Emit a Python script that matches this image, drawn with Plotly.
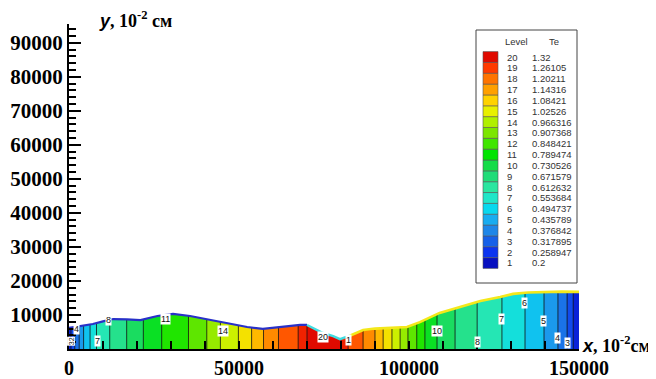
import plotly.graph_objects as go

# ---------------- data ----------------
# Te profile along x (10^-2 cm); mostly vertical isolines
x_cols = [0, 600, 1700, 3000, 4300, 6200, 8100, 12000, 17000, 21900, 27200, 35100,
          40500, 44500, 49800, 53700, 57200, 61600, 67400, 70000, 76000, 80000,
          82100, 86500, 90000, 92400, 95000, 97400, 99700, 102300, 104700, 108200,
          113500, 120000, 127300, 134100, 139700, 143800, 146500, 148300, 150000]
te_cols = [0.24, 0.259, 0.318, 0.377, 0.436, 0.495, 0.554, 0.613, 0.672, 0.731, 0.789, 0.848,
           0.907, 0.966, 1.025, 1.084, 1.143, 1.202, 1.261, 1.32, 1.36, 1.32,
           1.261, 1.202, 1.143, 1.084, 1.025, 0.966, 0.907, 0.848, 0.789, 0.731,
           0.672, 0.613, 0.554, 0.495, 0.436, 0.377, 0.318, 0.259, 0.225]
y_rows = [0, 18000]

# upper boundary of the domain
x_top = [0, 3000, 7000, 10000, 13000, 17000, 21000, 26000, 30600, 35600, 40600, 46500,
         52400, 57000, 62000, 68000, 70000, 74700, 77700, 79700, 82600, 86500, 90000,
         94400, 99400, 103200, 109000, 115000, 121000, 126800, 130600, 135000, 140600,
         145000, 150000]
h_top = [6200, 6700, 7350, 8100, 8800, 8700, 8500, 9700, 10300, 9700, 8800, 7650,
         6470, 5900, 6470, 7060, 7060, 4700, 3800, 2900, 3900, 5600, 6000,
         6200, 6470, 7900, 10600, 12350, 14100, 15300, 16200, 16600, 16800,
         16850, 16800]

# legend levels
levels = list(range(1, 21))
te_levels = ["0.2", "0.258947", "0.317895", "0.376842", "0.435789", "0.494737", "0.553684",
             "0.612632", "0.671579", "0.730526", "0.789474", "0.848421", "0.907368",
             "0.966316", "1.02526", "1.08421", "1.14316", "1.20211", "1.26105", "1.32"]
level_colors = ["#0810c0", "#0c34f0", "#1660e8", "#1e86e8", "#18acf0", "#08d8ee",
                "#20e6c8", "#2ae6a0", "#20dc78", "#14dc48", "#00e400", "#40e600",
                "#7ce600", "#b0f000", "#e8f000", "#ffd200", "#ffa000", "#ff7400",
                "#ff3a00", "#e00a00"]

# contour labels (x, y, text)
lab_x = [2060, 8240, 11760, 28240, 45290, 74700, 82060, 108240, 120000, 127350, 134100, 139700, 143800, 146470]
lab_y = [5880, 2350, 8530, 8820, 5290, 3530, 2650, 5290, 2060, 8820, 13530, 8240, 3240, 1760]
lab_t = ["4", "7", "8", "11", "14", "20", "1", "10", "8", "7", "6", "5", "4", "3"]

# ---------------- figure ----------------
W, H = 656, 379
OFF = 8  # page body margin
PW, PH = 510, 325
ML, MT = 69 - OFF, 24 - OFF
MR, MB = W - ML - PW, H - MT - PH


def px(xp):
    return (xp - OFF - ML) / PW


def py(yp):
    return (H - MB - (yp - OFF)) / PH


cs = (1.32 - 0.2) / 19
# level k colour sits at (k-0.5)/20 so that each band is a blend of its two bounding levels
colorscale = [[0.0, level_colors[0]]]
for k in range(1, 21):
    colorscale.append([(k - 0.5) / 20, level_colors[k - 1]])
colorscale.append([1.0, level_colors[-1]])

fig = go.Figure()
fig.add_trace(go.Contour(
    x=x_cols, y=y_rows, z=[te_cols, te_cols],
    autocontour=False,
    contours=dict(start=0.2, end=1.32, size=cs, coloring="fill", showlines=True),
    line=dict(color="#111111", width=0.8),
    colorscale=colorscale, showscale=False, hoverinfo="skip"))

# white mask above the upper boundary
mask_x = x_top + [150000, 0]
mask_y = h_top + [19000, 19000]
fig.add_trace(go.Scatter(x=mask_x, y=mask_y, fill="toself", fillcolor="white",
                         mode="lines", line=dict(width=0, color="white"),
                         hoverinfo="skip", showlegend=False))


def seg(x0, x1):
    xs, ys = [], []
    for xv, hv in zip(x_top, h_top):
        if x0 <= xv <= x1:
            xs.append(xv)
            ys.append(hv)
    return xs, ys


for (a, b, c, w) in [(0, 70000, "#2830c8", 2.2), (70000, 82600, "#40dce0", 2.4),
                     (82600, 150000, "#f4e81a", 2.6)]:
    xs, ys = seg(a, b)
    fig.add_trace(go.Scatter(x=xs, y=ys, mode="lines", line=dict(color=c, width=w),
                             hoverinfo="skip", showlegend=False))

annotations = []
for xv, yv, t in zip(lab_x, lab_y, lab_t):
    annotations.append(dict(x=xv, y=yv, xref="x", yref="y", text=t, showarrow=False,
                            xanchor="center", yanchor="middle",
                            font=dict(family="Liberation Sans", size=9, color="#111"),
                            bgcolor="white", borderpad=0))
annotations.append(dict(x=700, y=2400, xref="x", yref="y", text="32", showarrow=False,
                        xanchor="center", yanchor="middle",
                        textangle=-90, font=dict(family="Liberation Sans", size=7, color="#111"),
                        bgcolor="white", borderpad=0))

# axis titles
annotations.append(dict(x=px(97), y=py(20), xref="paper", yref="paper", xanchor="left", yanchor="middle",
                        text="<b><i><span style='font-family:Liberation Sans'>y</span></i>, 10<sup>-2</sup> см</b>",
                        showarrow=False, font=dict(family="Liberation Serif", size=18, color="black")))
annotations.append(dict(x=px(580), y=py(344), xref="paper", yref="paper", xanchor="left", yanchor="middle",
                        text="<b><i><span style='font-family:Liberation Sans'>x</span></i>, 10<sup>-2</sup>см</b>",
                        showarrow=False, font=dict(family="Liberation Serif", size=18, color="black")))

# legend box
shapes = [dict(type="rect", xref="paper", yref="paper", x0=px(476), x1=px(577), y0=py(283), y1=py(30),
               fillcolor="white", line=dict(color="#444", width=1), layer="above")]
row_top, row_bot = 57, 263
step = (row_bot - row_top) / 19
lf = dict(family="Liberation Sans", size=9.5, color="#333")
annotations.append(dict(x=px(503), y=py(42), xref="paper", yref="paper", xanchor="left", yanchor="middle",
                        text="Level", showarrow=False, font=lf))
annotations.append(dict(x=px(547), y=py(42), xref="paper", yref="paper", xanchor="left", yanchor="middle",
                        text="Te", showarrow=False, font=lf))
for k, tv, colr in zip(levels, te_levels, level_colors):
    yc = row_bot - (k - 1) * step
    shapes.append(dict(type="rect", xref="paper", yref="paper", x0=px(483), x1=px(498),
                       y0=py(yc + step / 2), y1=py(yc - step / 2), fillcolor=colr,
                       line=dict(color="#555", width=0.6), layer="above"))
    annotations.append(dict(x=px(505), y=py(yc), xref="paper", yref="paper", xanchor="left",
                            yanchor="middle", text=str(k), showarrow=False, font=lf))
    annotations.append(dict(x=px(530), y=py(yc), xref="paper", yref="paper", xanchor="left",
                            yanchor="middle", text=tv, showarrow=False, font=lf))

ytick_font = dict(family="Liberation Serif", size=21, color="black", weight="bold")
xtick_font = dict(family="Liberation Serif", size=20, color="black", weight="bold")
xt = list(range(0, 150001, 10000))
yt = list(range(0, 90001, 10000))

fig.update_layout(
    width=W, height=H, margin=dict(l=ML, r=MR, t=MT, b=MB, autoexpand=False),
    paper_bgcolor="white", plot_bgcolor="white", showlegend=False,
    annotations=annotations, shapes=shapes,
    xaxis=dict(range=[0, 150000], tickmode="array", tickvals=xt,
               ticktext=[str(v) if v % 50000 == 0 else "" for v in xt],
               ticks="inside", ticklen=8, tickwidth=2.2, tickcolor="black", automargin=False,
               showline=True, linewidth=2.2, linecolor="black", showgrid=False, zeroline=False,
               tickfont=xtick_font, ticklabelstandoff=0),
    yaxis=dict(range=[0, 95500], tickmode="array", tickvals=yt,
               ticktext=["" if v == 0 else str(v) for v in yt],
               ticks="inside", ticklen=12, tickwidth=2, tickcolor="black", automargin=False,
               minor=dict(tickmode="linear", tick0=0, dtick=2000, ticks="inside", ticklen=7,
                          tickwidth=1.5, tickcolor="black"),
               showline=True, linewidth=2.2, linecolor="black", showgrid=False, zeroline=False,
               tickfont=ytick_font, ticklabelstandoff=0),
)

fig.write_html("out.html")
